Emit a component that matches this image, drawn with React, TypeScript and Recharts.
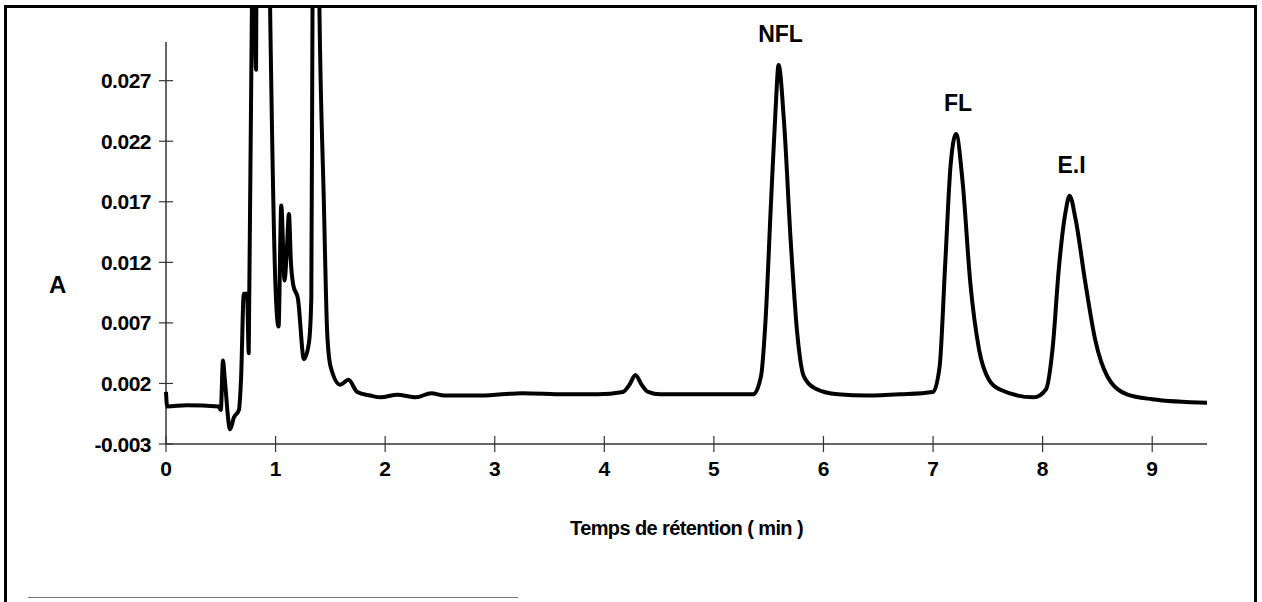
import { LineChart, Line, XAxis, YAxis, ReferenceLine, ReferenceDot, Label } from "recharts";

// chromatogram trace (time in min, absorbance)
const times = [
  0, 0.01, 0.19, 0.48, 0.5, 0.52, 0.535, 0.585, 0.62, 0.665, 0.685, 0.71, 0.74, 0.755,
  0.785, 0.79, 0.822, 0.832, 0.89, 0.95, 1.0, 1.027, 1.052, 1.082, 1.1, 1.122, 1.14,
  1.162, 1.204, 1.259, 1.305, 1.326, 1.337, 1.37, 1.4, 1.44, 1.471, 1.502, 1.59, 1.665,
  1.745, 1.865, 1.96, 2.11, 2.28, 2.42, 2.54, 2.88, 3.25, 3.64, 3.94, 4.17, 4.23, 4.284,
  4.34, 4.4, 4.51, 4.9, 5.36, 5.43, 5.47, 5.52, 5.565, 5.59, 5.64, 5.7, 5.76, 5.82, 5.92,
  6.13, 6.4, 6.7, 7.0, 7.06, 7.11, 7.16, 7.21, 7.27, 7.34, 7.42, 7.51, 7.61, 7.92, 8.03,
  8.09, 8.15, 8.21, 8.246, 8.3, 8.39, 8.48, 8.59, 8.77, 9.0, 9.5,
];
const absorbance = [
  0.0013, 0.0001, 0.0002, 0.0001, -0.0002, 0.0039, 0.0025, -0.0018, -0.0008, -0.0002,
  0.0024, 0.0094, 0.0094, 0.0045, 0.034, 0.05, 0.0279, 0.05, 0.08, 0.033, 0.0098, 0.0067,
  0.0167, 0.0105, 0.0125, 0.016, 0.012, 0.0101, 0.009, 0.004, 0.0054, 0.009, 0.033, 0.06,
  0.033, 0.0172, 0.0062, 0.0034, 0.0019, 0.0023, 0.0013, 0.001, 0.00085, 0.00107, 0.00085,
  0.0012, 0.001, 0.001, 0.0012, 0.0011, 0.0011, 0.0013, 0.0019, 0.0027, 0.0019, 0.0013,
  0.0011, 0.0011, 0.0011, 0.0026, 0.007, 0.0167, 0.025, 0.0283, 0.0236, 0.0139, 0.0062,
  0.0026, 0.0016, 0.0011, 0.001, 0.0011, 0.0013, 0.0034, 0.0117, 0.02, 0.0226, 0.0186,
  0.0103, 0.0048, 0.0023, 0.0015, 0.00085, 0.0015, 0.0048, 0.0117, 0.0162, 0.0175, 0.0156,
  0.0103, 0.0056, 0.0026, 0.0011, 0.0007, 0.0004,
];

const timeTicks = [0, 1, 2, 3, 4, 5, 6, 7, 8, 9];
const absTicks = [-0.003, 0.002, 0.007, 0.012, 0.017, 0.022, 0.027];

const peakNames = ["NFL", "FL", "E.I"];
const peakTimes = [5.59, 7.21, 8.246];
const peakValues = [0.0283, 0.0226, 0.0175];

const data = times.map((t, i) => ({ t, a: absorbance[i] }));

const FONT = "'Liberation Sans', Arial, sans-serif";

function XTick({ x, y, payload }: any) {
  return (
    <g>
      <line x1={x} x2={x} y1={y - 8} y2={y + 8} stroke="#333" strokeWidth={1.2} />
      <text x={x} y={y + 24} textAnchor="middle" dominantBaseline="central"
        fontSize={21} fontWeight="bold" fontFamily={FONT} fill="#000">
        {payload.value}
      </text>
    </g>
  );
}

function YTick({ x, y, payload }: any) {
  return (
    <g>
      <line x1={x - 7} x2={x + 7} y1={y} y2={y} stroke="#333" strokeWidth={1.2} />
      <text x={x - 15} y={y} textAnchor="end" dominantBaseline="central"
        fontSize={21} fontWeight="bold" fontFamily={FONT} fill="#000" letterSpacing={-0.5}>
        {payload.value.toFixed(3)}
      </text>
    </g>
  );
}

function PeakLabel({ viewBox, value }: any) {
  return (
    <text x={viewBox.x + 2} y={viewBox.y - 31} textAnchor="middle" dominantBaseline="central"
      fontSize={23} fontWeight="bold" fontFamily={FONT} fill="#000">
      {value}
    </text>
  );
}

export default function App() {
  return (
    <div style={{ position: "absolute", left: 0, top: 0, width: 1262, height: 602, background: "#fff" }}>
      <LineChart width={1262} height={602} data={data}
        margin={{ top: 8, right: 55, left: 106, bottom: 128 }}>
        <XAxis dataKey="t" type="number" domain={[0, 9.5]} ticks={timeTicks}
          tickSize={0} tickMargin={0} tickLine={false} tick={<XTick />}
          axisLine={{ stroke: "#333", strokeWidth: 1.5 }} height={30}>
          <Label value="Temps de rétention ( min )" position="bottom" offset={47}
            fontSize={20} fontWeight="bold" fontFamily={FONT} fill="#000" letterSpacing={-0.6} />
        </XAxis>
        <YAxis type="number" domain={[-0.003, 0.033]} allowDataOverflow ticks={absTicks}
          width={60} tickSize={0} tickMargin={0} tickLine={false} axisLine={false} tick={<YTick />} />
        <ReferenceLine segment={[{ x: 0, y: -0.003 }, { x: 0, y: 0.0302 }]}
          stroke="#333" strokeWidth={1.5} ifOverflow="visible" />
        <Line dataKey="a" type="monotone" stroke="#000" strokeWidth={4} dot={false}
          strokeLinejoin="round" isAnimationActive={false} />
        {peakNames.map((name, i) => (
          <ReferenceDot key={name} x={peakTimes[i]} y={peakValues[i]} r={0}
            fill="none" stroke="none" label={<PeakLabel value={name} />} />
        ))}
      </LineChart>
      <div style={{ position: "absolute", left: 49, top: 270, fontFamily: FONT, fontSize: 24,
        fontWeight: "bold", lineHeight: "30px" }}>A</div>
      <div style={{ position: "absolute", left: 4, top: 5, width: 1247, height: 597,
        borderTop: "3px solid #000", borderLeft: "3px solid #000", borderRight: "3px solid #000",
        pointerEvents: "none" }} />
      <div style={{ position: "absolute", left: 28, top: 597, width: 490, height: 1,
        background: "#777" }} />
    </div>
  );
}
